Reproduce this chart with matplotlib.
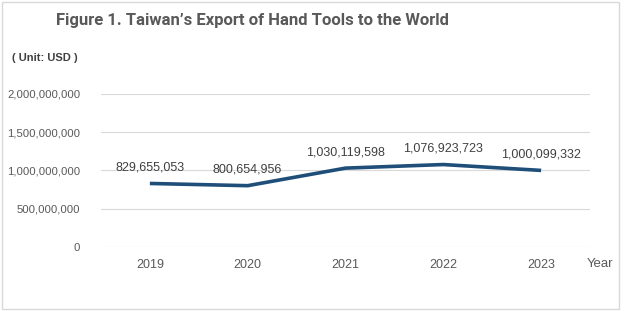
import matplotlib.pyplot as plt
from matplotlib.ticker import FuncFormatter, MultipleLocator
from matplotlib.patches import Rectangle

# Data
years = ['2019', '2020', '2021', '2022', '2023']
exports = [829655053, 800654956, 1030119598, 1076923723, 1000099332]

plt.rcParams['font.family'] = ['Liberation Sans', 'DejaVu Sans']

fig = plt.figure(figsize=(6.27, 3.11), dpi=100)
ax = fig.add_axes([0.161, 0.206, 0.78, 0.492])

x = list(range(len(years)))
ax.plot(x, exports, color='#1F4E79', linewidth=2.6, solid_capstyle='butt')

# Data labels
for xi, v in zip(x, exports):
    ax.annotate(f'{v:,}', (xi, v), xytext=(0, 7), textcoords='offset points',
                ha='center', va='bottom', fontsize=9, color='#404040')

# Axes styling
ax.set_xlim(-0.5, 4.5)
ax.set_ylim(0, 2000000000)
ax.yaxis.set_major_locator(MultipleLocator(500000000))
ax.yaxis.set_major_formatter(FuncFormatter(lambda v, p: f'{int(v):,}'))
ax.set_xticks(x)
ax.set_xticklabels(years)
ax.grid(axis='y', color='#D9D9D9', linewidth=0.8)
ax.set_axisbelow(True)
for s in ax.spines.values():
    s.set_visible(False)
ax.tick_params(axis='both', length=0, colors='#595959')
ax.tick_params(axis='x', pad=9, labelsize=9)
ax.tick_params(axis='y', pad=15, labelsize=8.2)

# Titles and labels
fig.text(0.403, 0.935, 'Figure 1. Taiwan\u2019s Export of Hand Tools to the World',
         ha='center', va='center', fontsize=12, fontweight='bold', color='#595959',
         family=['Roboto', 'DejaVu Sans'])
fig.text(0.019, 0.815, '( Unit: USD )', ha='left', va='center', fontsize=8,
         fontweight='bold', color='#404040')
fig.text(0.978, 0.15, 'Year', ha='right', va='center', fontsize=9.5, color='#595959')

# light frame around the chart
fig.patches.append(Rectangle((0.003, 0.008), 0.985, 0.985, transform=fig.transFigure,
                             fill=False, edgecolor='#D9D9D9', linewidth=1))

fig.savefig('out.png', dpi=100)
